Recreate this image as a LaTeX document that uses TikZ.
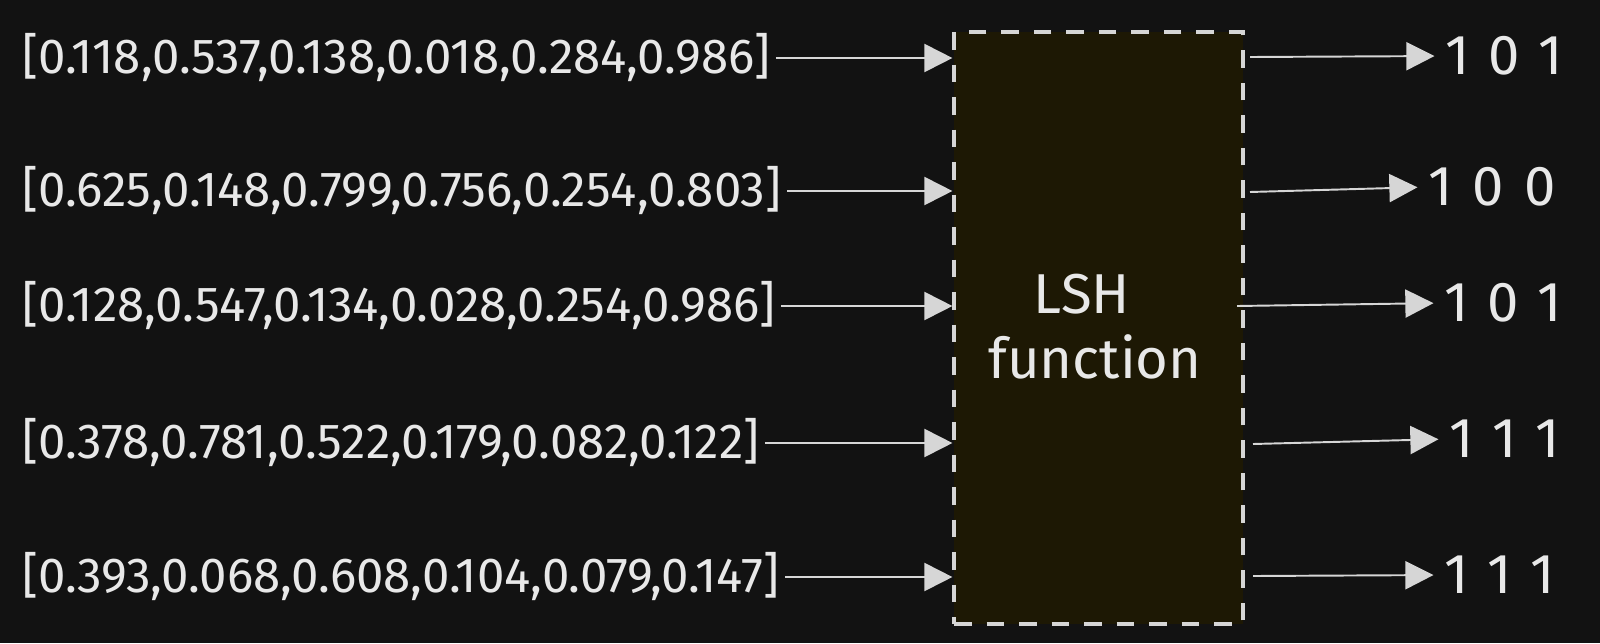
\documentclass[tikz,border=0pt]{standalone}
\usepackage{fontspec}
\setmainfont{Fira Sans}
\usetikzlibrary{arrows.meta}

\definecolor{bgcol}{HTML}{121212}
\definecolor{boxcol}{HTML}{1D1804}
\definecolor{inkcol}{HTML}{E8E8E8}
\definecolor{linecol}{HTML}{D6D6D6}

\tikzset{
	vecnode/.style={text=inkcol, font=\fontsize{28}{32}\selectfont, inner sep=0pt, anchor=west},
	bitnode/.style={text=inkcol, font=\fontsize{32}{36}\selectfont, inner sep=0pt, anchor=west},
	labnode/.style={text=inkcol, font=\fontsize{32}{36}\selectfont, inner sep=0pt, anchor=base},
	link/.style={draw=linecol, line width=1.1pt, -{Triangle[length=16pt, width=16pt]}},
	hashbox/.style={draw=linecol, fill=boxcol, dash pattern=on 10pt off 8.5pt, line width=1.8pt, inner sep=0pt}
}

\begin{document}
\begin{tikzpicture}[x=0.02cm, y=-0.02cm]

	\fill[bgcol] (0,0) rectangle (1600,643);
	\useasboundingbox (0,0) rectangle (1600,643);

	% the hash box
	\node[hashbox, minimum width=289*0.02cm, minimum height=592*0.02cm] (box) at (1098.5,328) {};
	\node[labnode] (lsh) at (1082,313) {LSH};
	\node[labnode] (fn) at (1095,378) {function};

	% input vectors
	\node[vecnode] (in1) at (22,58) {[0.118,0.537,0.138,0.018,0.284,0.986]};
	\node[vecnode] (in2) at (22,191) {[0.625,0.148,0.799,0.756,0.254,0.803]};
	\node[vecnode] (in3) at (22,306) {[0.128,0.547,0.134,0.028,0.254,0.986]};
	\node[vecnode] (in4) at (22,443) {[0.378,0.781,0.522,0.179,0.082,0.122]};
	\node[vecnode] (in5) at (22,577) {[0.393,0.068,0.608,0.104,0.079,0.147]};

	% output bits
	\node[bitnode] (out1) at (1445,56) {1\hspace{0.33em}0\hspace{0.33em}1};
	\node[bitnode] (out2) at (1428,187) {1\hspace{0.36em}0\hspace{0.36em}0};
	\node[bitnode] (out3) at (1444,303) {1\hspace{0.33em}0\hspace{0.33em}1};
	\node[bitnode] (out4) at (1449,439) {1\hspace{0.33em}1\hspace{0.33em}1};
	\node[bitnode] (out5) at (1444,575) {1\hspace{0.33em}1\hspace{0.33em}1};

	% arrow starts on the right
	\coordinate (r1) at (1250,57);
	\coordinate (r2) at (1250,192);
	\coordinate (r3) at (1237,306);
	\coordinate (r4) at (1253,444);
	\coordinate (r5) at (1253,576);

	\foreach \i in {1,...,5}{
		\draw[link, shorten <=3pt] (in\i.east) -- (in\i.east -| box.west);
		\draw[link, shorten >=6pt] (r\i) -- (out\i.west);
	}

\end{tikzpicture}
\end{document}
